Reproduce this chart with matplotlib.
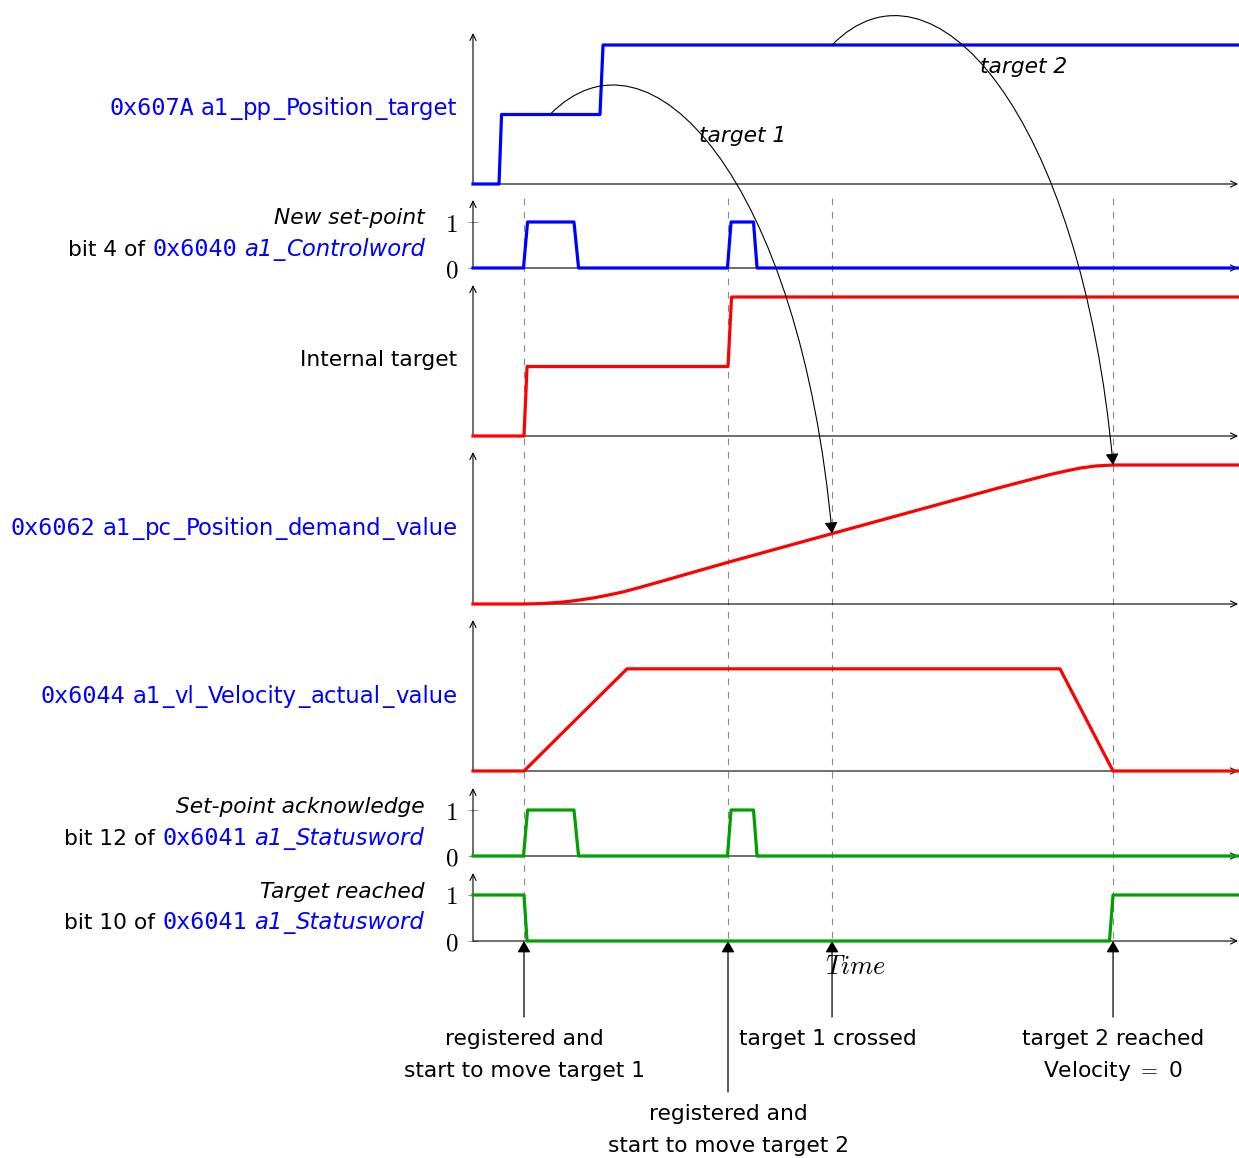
import matplotlib
matplotlib.use('Agg')
import matplotlib.pyplot as plt
import matplotlib.transforms as mtrans
from matplotlib.patches import FancyArrowPatch
from matplotlib.path import Path
import numpy as np

W, H = 1239, 1158
plt.rcParams['font.family'] = ['DejaVu Sans']
plt.rcParams['mathtext.fontset'] = 'cm'

BLUE = '#0000ff'
RED = '#ff0000'
GREEN = '#00a000'

# ---------------- data (time in arbitrary units) ----------------
T_END = 15.0
event_times = [1.0, 5.0, 7.04, 12.55]   # reg. target1, reg. target2, target1 crossed, target2 reached

pos_target_t = [0, 0.51, 0.56, 2.49, 2.55, T_END]
pos_target_v = [0, 0, 1, 1, 2, 2]

new_sp_t = [0, 0.99, 1.07, 1.98, 2.07, 4.99, 5.06, 5.50, 5.57, T_END]
new_sp_v = [0, 0, 1, 1, 0, 0, 1, 1, 0, 0]

internal_t = [0, 1.0, 1.06, 5.0, 5.07, T_END]
internal_v = [0, 0, 1, 1, 2, 2]

demand_t = [0, 1.0, 1.3, 1.71, 2.0, 2.35, 2.65, 2.96, 3.3, 3.67, 5.02, 7.06, 10.33,
            10.98, 11.3, 11.6, 11.9, 12.2, 12.55, T_END]
demand_v = [0, 0, 0.005, 0.024, 0.048, 0.086, 0.128, 0.177, 0.245, 0.321, 0.604, 1.017,
            1.675, 1.80, 1.86, 1.91, 1.955, 1.985, 2.0, 2.0]

velocity_t = [0, 1.0, 3.02, 11.51, 12.55, T_END]
velocity_v = [0, 0, 1.47, 1.47, 0, 0]

ack_t = [0, 0.99, 1.07, 1.98, 2.07, 4.99, 5.06, 5.50, 5.57, T_END]
ack_v = [0, 0, 1, 1, 0, 0, 1, 1, 0, 0]

reached_t = [0, 1.0, 1.06, 12.48, 12.55, T_END]
reached_v = [1, 1, 0, 0, 1, 1]

target1_from_t = 1.51
target2_from_t = 7.04

# ---------------- figure ----------------
fig = plt.figure(figsize=(W / 100, H / 100), dpi=100)
X0, X1 = 473, 1238
ANALOG_PPU = 69.5
DIGITAL_PPU = 46.0

ov = fig.add_axes([0, 0, 1, 1])
ov.set_xlim(0, W)
ov.set_ylim(H, 0)
ov.axis('off')
ov.set_zorder(0)

axarrow = dict(arrowstyle='->,head_length=0.45,head_width=0.22', lw=0.8,
               color='black', shrinkA=0, shrinkB=0)


def add_panel(top, base, ppu, digital=False):
    ax = fig.add_axes([X0 / W, (H - base) / H, (X1 - X0) / W, (base - top) / H])
    ax.set_zorder(1)
    ax.patch.set_alpha(0)
    ax.set_xlim(0, T_END)
    ax.set_ylim(0, (base - top) / ppu)
    for s in ax.spines.values():
        s.set_visible(False)
    ax.set_xticks([])
    if digital:
        ax.set_yticks([0, 1])
        ax.set_yticklabels(['$0$', '$1$'], fontsize=18)
        ax.tick_params(axis='y', direction='inout', length=7.5, width=0.6,
                       color='gray', labelcolor='black', pad=7)
    else:
        ax.set_yticks([])
    ax.annotate('', xy=(1, 0), xytext=(0, 0), xycoords='axes fraction',
                arrowprops=axarrow, zorder=2, annotation_clip=False)
    ax.annotate('', xy=(0, 1), xytext=(0, 0), xycoords='axes fraction',
                arrowprops=axarrow, zorder=2, annotation_clip=False)
    return ax


ax1 = add_panel(33, 184, ANALOG_PPU)
ax2 = add_panel(200, 268, DIGITAL_PPU, digital=True)
ax3 = add_panel(285, 436, ANALOG_PPU)
ax4 = add_panel(452, 604, ANALOG_PPU)
ax5 = add_panel(620, 771, ANALOG_PPU)
ax6 = add_panel(788, 856, DIGITAL_PPU, digital=True)
ax7 = add_panel(873, 941, DIGITAL_PPU, digital=True)

LW = 2.3
ax1.plot(pos_target_t, pos_target_v, color=BLUE, lw=LW, clip_on=False, zorder=3)
ax2.plot(new_sp_t, new_sp_v, color=BLUE, lw=LW, clip_on=False, zorder=3)
ax3.plot(internal_t, internal_v, color=RED, lw=LW, clip_on=False, zorder=3)
ax4.plot(demand_t, demand_v, color=RED, lw=LW, clip_on=False, zorder=3)
ax5.plot(velocity_t, velocity_v, color=RED, lw=LW, clip_on=False, zorder=3)
ax6.plot(ack_t, ack_v, color=GREEN, lw=LW, clip_on=False, zorder=3)
ax7.plot(reached_t, reached_v, color=GREEN, lw=LW, clip_on=False, zorder=3)

# ---------------- dashed event lines ----------------
blend = mtrans.blended_transform_factory(ax7.transData, ov.transData)
for e in event_times:
    ov.plot([e, e], [198, 941], transform=blend, color='#888888', lw=0.8,
            ls=(0, (6, 6)), zorder=0)

# ---------------- curved arrows (cubic, endpoints from data) ----------------
headstyle = '-|>,head_length=0.38,head_width=0.22'
to_ov = ov.transData.inverted()


def curved_arrow(ax_from, p_from, ax_to, p_to):
    a = to_ov.transform(ax_from.transData.transform(p_from))
    b = to_ov.transform(ax_to.transData.transform(p_to))
    c1 = a + np.array([100.0, -102.0])
    c2 = b + np.array([-32.0, -353.0])
    path = Path([a, c1, c2, b], [Path.MOVETO, Path.CURVE4, Path.CURVE4, Path.CURVE4])
    arr = FancyArrowPatch(path=path, arrowstyle=headstyle, mutation_scale=18,
                          lw=0.8, color='black', transform=ov.transData, zorder=5)
    fig.add_artist(arr)


y_cross = float(np.interp(event_times[2], demand_t, demand_v))
y_reach = float(np.interp(event_times[3], demand_t, demand_v))
curved_arrow(ax1, (target1_from_t, 1), ax4, (event_times[2], y_cross))
curved_arrow(ax1, (target2_from_t, 2), ax4, (event_times[3], y_reach))

FS = 15.7
ov.text(743, 136, 'target 1', fontsize=FS, style='italic', ha='center', va='center', zorder=6)
ov.text(1024, 67, 'target 2', fontsize=FS, style='italic', ha='center', va='center', zorder=6)

# ---------------- bottom annotations ----------------
botarrow = dict(arrowstyle=headstyle, mutation_scale=18, lw=0.9, color='black',
                shrinkA=0, shrinkB=0)
starts = [1017, 1092, 1017, 1017]
for e, s in zip(event_times, starts):
    ov.annotate('', xy=(e, 941), xytext=(e, s), xycoords=blend, textcoords=blend,
                arrowprops=botarrow, annotation_clip=False)

ov.text(856, 974, '$Time$', fontsize=19, ha='center', va='baseline')

bottom_texts = [
    (524, 1045, 'registered and'), (524, 1077, 'start to move target 1'),
    (828, 1045, 'target 1 crossed'),
    (1113, 1045, 'target 2 reached'), (1113, 1077, 'Velocity $=$ 0'),
    (728, 1120, 'registered and'), (728, 1152, 'start to move target 2'),
]
for x, y, s in bottom_texts:
    ov.text(x, y, s, fontsize=FS, ha='center', va='baseline')

# ---------------- left labels (rich text, right aligned) ----------------
renderer = fig.canvas.get_renderer()
FSB = 16.4
STY = {
    'n': dict(fontsize=FS, color='black'),
    'i': dict(fontsize=FS, color='black', style='italic'),
    'bn': dict(fontsize=FSB, color=BLUE),
    'bi': dict(fontsize=FSB, color=BLUE, style='italic'),
    'bm': dict(fontsize=16.8, color=BLUE, family='DejaVu Sans Mono'),
}
UGAP = 1.2


def width_of(s, kw):
    t = ov.text(0, 0, s, **kw)
    w = t.get_window_extent(renderer).width
    t.remove()
    return w


SPACE = width_of('x x', STY['n']) - width_of('xx', STY['n'])


def rich_right(xr, yb, parts):
    tokens = []
    for s, key in parts:
        if s == ' ':
            tokens.append((' ', None))
            continue
        segs = s.split('_')
        for k, seg in enumerate(segs):
            if k > 0:
                tokens.append(('_', key))
            if seg:
                tokens.append((seg, key))
    x = xr
    for s, key in reversed(tokens):
        if s == ' ':
            x -= SPACE
            continue
        kw = STY[key]
        if s == '_':
            x -= UGAP
        ov.text(x, yb, s, ha='right', va='baseline', **kw)
        x -= width_of(s, kw)
        if s == '_':
            x -= UGAP


rich_right(457, 115, [('0x607A', 'bm'), (' ', None), ('a1_pp_Position_target', 'bn')])
rich_right(425, 224, [('New set-point', 'i')])
rich_right(425, 256, [('bit 4 of', 'n'), (' ', None), ('0x6040', 'bm'), (' ', None),
                      ('a1_Controlword', 'bi')])
rich_right(457, 366, [('Internal target', 'n')])
rich_right(457, 535, [('0x6062', 'bm'), (' ', None), ('a1_pc_Position_demand_value', 'bn')])
rich_right(457, 703, [('0x6044', 'bm'), (' ', None), ('a1_vl_Velocity_actual_value', 'bn')])
rich_right(425, 813, [('Set-point acknowledge', 'i')])
rich_right(425, 845, [('bit 12 of', 'n'), (' ', None), ('0x6041', 'bm'), (' ', None),
                      ('a1_Statusword', 'bi')])
rich_right(425, 898, [('Target reached', 'i')])
rich_right(425, 929, [('bit 10 of', 'n'), (' ', None), ('0x6041', 'bm'), (' ', None),
                      ('a1_Statusword', 'bi')])

fig.savefig('out.png', dpi=100)
